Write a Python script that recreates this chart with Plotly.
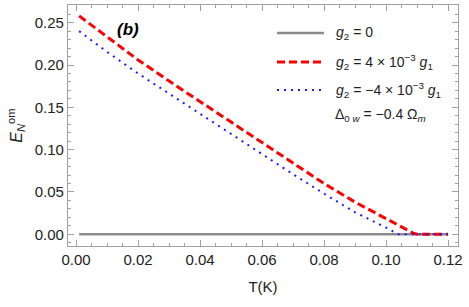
import plotly.graph_objects as go

# Data
T_red = [0.001, 0.01, 0.02, 0.03, 0.04, 0.05, 0.06, 0.07, 0.08, 0.09, 0.10, 0.105, 0.109, 0.11, 0.12]
E_red = [0.258, 0.233, 0.206, 0.181, 0.157, 0.133, 0.109, 0.084, 0.060, 0.038, 0.018, 0.009, 0.001, 0.0, 0.0]

T_blue = [0.001, 0.01, 0.02, 0.03, 0.04, 0.05, 0.06, 0.07, 0.08, 0.09, 0.10, 0.103, 0.104, 0.12]
E_blue = [0.240, 0.2155, 0.190, 0.166, 0.143, 0.119, 0.095, 0.071, 0.048, 0.026, 0.008, 0.002, 0.0, 0.0]

T_gray = [0.001, 0.12]
E_gray = [0.0, 0.0]

legend_labels = [
    "<i>g</i><sub>2</sub> = 0",
    "<i>g</i><sub>2</sub> = 4 × 10<sup>−3</sup> <i>g</i><sub>1</sub>",
    "<i>g</i><sub>2</sub> = −4 × 10<sup>−3</sup> <i>g</i><sub>1</sub>",
]
x_ticks = [0.00, 0.02, 0.04, 0.06, 0.08, 0.10, 0.12]
y_ticks = [0.00, 0.05, 0.10, 0.15, 0.20, 0.25]

FONT = "Liberation Sans, Arial, sans-serif"
W, H = 469, 307
L, R, TM, B = 68, 11, 5, 61
pw, ph = W - L - R, H - TM - B


def px(xp):
    return (xp - L) / pw


def py(yp):
    return (H - B - yp) / ph


fig = go.Figure()
fig.add_trace(go.Scatter(x=T_gray, y=E_gray, mode="lines",
                         line=dict(color="#8c8c8c", width=2.5), showlegend=False))
fig.add_trace(go.Scatter(x=T_red, y=E_red, mode="lines",
                         line=dict(color="#ff0000", width=3, dash="8px,4px"), showlegend=False))
fig.add_trace(go.Scatter(x=T_blue, y=E_blue, mode="lines",
                         line=dict(color="#1a1aff", width=2, dash="2px,5px"), showlegend=False))

axis_common = dict(
    showgrid=False, zeroline=False, showline=True, linecolor="#a0a0a0", linewidth=1.2,
    mirror="allticks", ticks="inside", ticklen=6, tickcolor="#a0a0a0", tickwidth=1,
    tickfont=dict(family=FONT, size=15, color="#222"), ticklabeloverflow="allow",
)
fig.update_xaxes(range=[-0.0026, 0.1232], tickvals=x_ticks,
                 ticktext=[f"{v:.2f}" for v in x_ticks],
                 minor=dict(dtick=0.005, ticks="inside", ticklen=3, tickcolor="#a0a0a0"),
                 title=dict(text="T(K)", font=dict(family=FONT, size=15, color="#222"), standoff=14),
                 **axis_common)
fig.update_yaxes(range=[-0.0138, 0.2709], tickvals=y_ticks,
                 ticktext=[f"{v:.2f}" for v in y_ticks],
                 minor=dict(dtick=0.01, ticks="inside", ticklen=3, tickcolor="#a0a0a0"),
                 title=dict(text="<i>E</i><sub><i>N</i></sub><sup>om</sup>",
                            font=dict(family=FONT, size=16, color="#222"), standoff=8),
                 **axis_common)

# Manual legend
styles = [
    dict(color="#8c8c8c", width=2.5, dash="solid"),
    dict(color="#ff0000", width=3, dash="8px,4px"),
    dict(color="#1a1aff", width=2, dash="2px,5px"),
]
rows = [33, 62, 90]
for lbl, st, yr in zip(legend_labels, styles, rows):
    fig.add_shape(type="line", xref="paper", yref="paper",
                  x0=px(277), x1=px(324), y0=py(yr), y1=py(yr), line=st)
    fig.add_annotation(xref="paper", yref="paper", x=px(334), y=py(yr),
                       xanchor="left", yanchor="middle", showarrow=False, text=lbl,
                       font=dict(family=FONT, size=14, color="#222"))

fig.add_annotation(xref="paper", yref="paper", x=px(380), y=py(115),
                   xanchor="center", yanchor="middle", showarrow=False,
                   text="Δ<sub>0 <i>w</i></sub> = −0.4 Ω<sub><i>m</i></sub>",
                   font=dict(family=FONT, size=14, color="#222"))
fig.add_annotation(xref="paper", yref="paper", x=px(128), y=py(30),
                   xanchor="center", yanchor="middle", showarrow=False,
                   text="<b><i>(b)</i></b>",
                   font=dict(family=FONT, size=17, color="#000"))

fig.update_layout(width=W, height=H, margin=dict(l=L, r=R, t=TM, b=B),
                  paper_bgcolor="white", plot_bgcolor="white", showlegend=False)

fig.write_html("out.html", config={"displayModeBar": False},
               post_script="document.body.style.margin='0px';")
